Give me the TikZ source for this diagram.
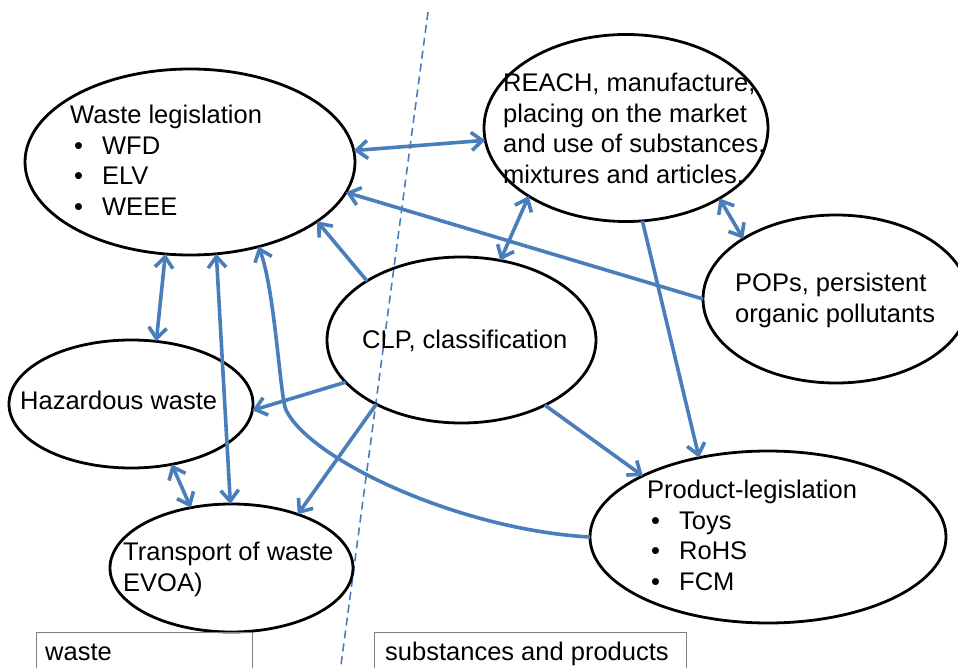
\documentclass[tikz,border=0pt]{standalone}
\usepackage{fontspec}
\setmainfont{Liberation Sans}
\usetikzlibrary{arrows.meta,shapes.geometric}

\definecolor{linkblue}{HTML}{4A7EBB}
\definecolor{boxgray}{HTML}{7F7F7F}

\newcommand{\bitem}[1]{\hspace*{4pt}\makebox[28pt][l]{\textbullet}#1}

\begin{document}
\begin{tikzpicture}[
  x=1pt, y=-1pt,
  >={Straight Barb[length=11pt,width=18pt]},
  font=\fontsize{25.5}{30.5}\selectfont,
  blob/.style={ellipse, draw, line width=2.8pt, inner sep=0pt, outer sep=0pt},
  txt/.style={anchor=north west, align=left, inner sep=0pt},
  legend/.style={draw=boxgray, line width=1.3pt, anchor=north west, inner sep=0pt, minimum height=60pt},
  link/.style={draw=linkblue, line width=3.6pt},
  every edge/.style={link}
]
\path[use as bounding box, clip] (0,0) rectangle (958,668);

% divider between the two fields
\coordinate (divtop) at (428,12);
\coordinate (divbot) at (339,680);
\draw[linkblue, line width=1.6pt, dash pattern=on 8pt off 5pt] (divtop) -- (divbot);

% ellipses
\node[blob, minimum width=330pt, minimum height=186pt] (wl) at (190,162) {};
\node[blob, minimum width=284pt, minimum height=187pt] (reach) at (626,128) {};
\node[blob, minimum width=266pt, minimum height=168pt] (pops) at (836,299) {};
\node[blob, minimum width=269pt, minimum height=166pt] (clp) at (461.5,340) {};
\node[blob, minimum width=244pt, minimum height=128pt] (haz) at (131,404) {};
\node[blob, minimum width=243pt, minimum height=128pt] (trans) at (231.5,568) {};
\node[blob, minimum width=356pt, minimum height=172pt] (prod) at (768,537) {};

% texts
\node[txt] (wltext) at (70,105) {Waste legislation\\\bitem{WFD}\\\bitem{ELV}\\\bitem{WEEE}};
\node[txt] (reachtext) at (503,73) {REACH, manufacture,\\placing on the market\\and use of substances,\\mixtures and articles.};
\node[txt] (popstext) at (735,273) {POPs, persistent\\organic pollutants};
\node[txt] (clptext) at (362,330) {CLP, classification};
\node[txt] (haztext) at (20,391) {Hazardous waste};
\node[txt] (transtext) at (123,542) {Transport of waste\\EVOA)};
\node[txt] (prodtext) at (647,480) {Product-legislation\\\bitem{Toys}\\\bitem{RoHS}\\\bitem{FCM}};

% legend boxes
\node[legend, minimum width=216pt] (wastebox) at (36,632) {};
\node[anchor=base west, inner sep=0pt] (wastelbl) at (45,660) {waste};
\node[legend, minimum width=312pt] (subbox) at (374,632) {};
\node[anchor=base west, inner sep=0pt] (sublbl) at (385,660) {substances and products};

% links
\path
  (wl.4) edge[<->] (reach.185)
  (pops.180) edge[->] (wl.-11)
  (clp.148) edge[->] (wl.-25)
  (wl.-105) edge[<->] (haz.68)
  (wl.-74) edge[<->] (trans.91)
  (reach.215) edge[<->] (clp.64)
  (reach.-37) edge[<->] (pops.147)
  (reach.-80) edge[->] (prod.131)
  (clp.-38) edge[->] (prod.154)
  (clp.200) edge[->] (haz.-3)
  (clp.217) edge[->] (trans.39)
  (haz.-56) edge[<->] (trans.124);
\coordinate (bend) at (286,410);
\draw[link, ->] (prod.west) .. controls (460,530) and (310,460) .. (bend)
  .. controls (280,397) and (275,290) .. (wl.-51);
\end{tikzpicture}
\end{document}
